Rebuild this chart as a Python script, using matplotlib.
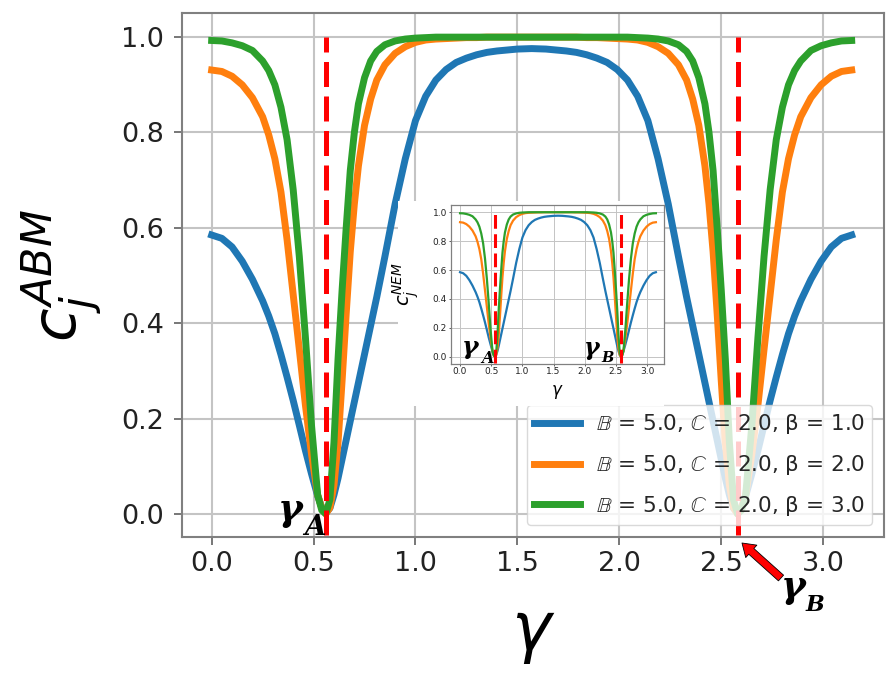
import matplotlib
matplotlib.use('Agg')
import matplotlib.pyplot as plt

# ---------------- data ----------------
gamma = [0.00, 0.05, 0.10, 0.15, 0.20, 0.25, 0.28, 0.31, 0.34, 0.37, 0.40, 0.43,
         0.46, 0.49, 0.52, 0.54, 0.56, 0.58, 0.60, 0.62, 0.64, 0.66, 0.68, 0.70,
         0.72, 0.75, 0.78, 0.81, 0.85, 0.90, 0.95, 1.00, 1.05, 1.10, 1.15, 1.20,
         1.25, 1.30, 1.35, 1.40, 1.45, 1.50, 1.57,
         1.64, 1.69, 1.74, 1.79, 1.84, 1.89, 1.94, 1.99, 2.04, 2.09, 2.14, 2.19,
         2.24, 2.29, 2.33, 2.36, 2.39, 2.42, 2.44, 2.46, 2.48, 2.50, 2.52, 2.54,
         2.56, 2.58, 2.60, 2.62, 2.65, 2.68, 2.71, 2.74, 2.77, 2.80, 2.83, 2.86,
         2.89, 2.94, 2.99, 3.04, 3.09, 3.14]

c_beta1 = [0.585, 0.578, 0.560, 0.530, 0.492, 0.447, 0.415, 0.378, 0.334, 0.287, 0.238, 0.186,
           0.133, 0.084, 0.038, 0.014, 0.002, 0.012, 0.040, 0.075, 0.115, 0.155, 0.195, 0.235,
           0.275, 0.335, 0.395, 0.455, 0.540, 0.650, 0.745, 0.825, 0.876, 0.910, 0.932, 0.947,
           0.956, 0.963, 0.968, 0.971, 0.973, 0.975, 0.976,
           0.975, 0.973, 0.971, 0.968, 0.963, 0.956, 0.947, 0.932, 0.910, 0.876, 0.825, 0.745,
           0.650, 0.540, 0.455, 0.395, 0.335, 0.275, 0.235, 0.195, 0.155, 0.115, 0.075, 0.040,
           0.012, 0.002, 0.014, 0.038, 0.084, 0.133, 0.186, 0.238, 0.287, 0.334, 0.378, 0.415,
           0.447, 0.492, 0.530, 0.560, 0.578, 0.585]

c_beta2 = [0.931, 0.928, 0.918, 0.900, 0.873, 0.833, 0.795, 0.745, 0.675, 0.575, 0.460, 0.345,
           0.228, 0.125, 0.040, 0.013, 0.000, 0.013, 0.060, 0.150, 0.280, 0.420, 0.550, 0.650,
           0.730, 0.815, 0.870, 0.910, 0.942, 0.966, 0.980, 0.989, 0.994, 0.996, 0.997, 0.998,
           0.999, 0.999, 1.000, 1.000, 1.000, 1.000, 1.000,
           1.000, 1.000, 1.000, 1.000, 0.999, 0.999, 0.998, 0.997, 0.996, 0.994, 0.989, 0.980,
           0.966, 0.942, 0.910, 0.870, 0.815, 0.730, 0.650, 0.550, 0.420, 0.280, 0.150, 0.060,
           0.013, 0.000, 0.013, 0.040, 0.125, 0.228, 0.345, 0.460, 0.575, 0.675, 0.745, 0.795,
           0.833, 0.873, 0.900, 0.918, 0.928, 0.931]

c_beta3 = [0.993, 0.992, 0.988, 0.982, 0.972, 0.950, 0.930, 0.900, 0.853, 0.785, 0.680, 0.540,
           0.370, 0.185, 0.040, 0.008, 0.000, 0.030, 0.150, 0.325, 0.470, 0.600, 0.720, 0.800,
           0.860, 0.915, 0.950, 0.970, 0.984, 0.992, 0.996, 0.998, 0.999, 1.000, 1.000, 1.000,
           1.000, 1.000, 1.000, 1.000, 1.000, 1.000, 1.000,
           1.000, 1.000, 1.000, 1.000, 1.000, 1.000, 1.000, 1.000, 1.000, 0.999, 0.998, 0.996,
           0.992, 0.984, 0.970, 0.950, 0.915, 0.860, 0.800, 0.720, 0.600, 0.470, 0.325, 0.150,
           0.030, 0.000, 0.008, 0.040, 0.185, 0.370, 0.540, 0.680, 0.785, 0.853, 0.900, 0.930,
           0.950, 0.972, 0.982, 0.988, 0.992, 0.993]

series = [c_beta1, c_beta2, c_beta3]
labels = [r'$\mathbb{B}$ = 5.0, $\mathbb{C}$ = 2.0, β = 1.0',
          r'$\mathbb{B}$ = 5.0, $\mathbb{C}$ = 2.0, β = 2.0',
          r'$\mathbb{B}$ = 5.0, $\mathbb{C}$ = 2.0, β = 3.0']
colors = ['#1f77b4', '#ff7f0e', '#2ca02c']
gamma_A = 0.56
gamma_B = 2.58
red_span = [-0.045, 1.0]
xticks = [0.0, 0.5, 1.0, 1.5, 2.0, 2.5, 3.0]
yticks = [0.0, 0.2, 0.4, 0.6, 0.8, 1.0]

# ---------------- figure ----------------
W, H = 896, 677
fig = plt.figure(figsize=(W / 100, H / 100), dpi=100)


def fbox(x0, y0, x1, y1):
    return [x0 / W, 1 - y1 / H, (x1 - x0) / W, (y1 - y0) / H]


def style_axes(a, tick_size, tick_len, xpad, ypad, grid_lw, spine_lw):
    a.set_xticks(xticks)
    a.set_yticks(yticks)
    a.set_xticklabels([f'{t:.1f}' for t in xticks])
    a.set_yticklabels([f'{t:.1f}' for t in yticks])
    a.tick_params(axis='both', labelsize=tick_size, length=tick_len, width=spine_lw * 0.8,
                  color='#606060', labelcolor='#222222')
    a.tick_params(axis='x', pad=xpad)
    a.tick_params(axis='y', pad=ypad)
    a.grid(True, color='#c4c4c4', lw=grid_lw)
    a.set_axisbelow(True)
    for s in a.spines.values():
        s.set_color('#808080')
        s.set_linewidth(spine_lw)


# main axes
ax = fig.add_axes(fbox(181.7, 13.3, 884.3, 537.3))
ax.set_zorder(0)
for vals, col, lab in zip(series, colors, labels):
    ax.plot(gamma, vals, color=col, lw=5, label=lab, solid_capstyle='projecting',
            solid_joinstyle='round')
for g in (gamma_A, gamma_B):
    ax.plot([g, g], red_span, color='red', lw=3.6, linestyle=(0, (5, 1.9)), zorder=4)
ax.set_xlim(-0.147, 3.30)
ax.set_ylim(-0.049, 1.05)
style_axes(ax, 19.5, 5.5, 4.5, 7, 1.5, 1.5)
ax.set_xlabel(r'$\gamma$', fontsize=48)
ax.xaxis.set_label_coords(0.5, -0.119)
ax.set_ylabel(r'$c_j^{ABM}$', fontsize=44)
ax.yaxis.set_label_coords(-0.111, 0.5)
leg = ax.legend(loc='lower right', fontsize=15.5, handlelength=2.1, handletextpad=0.75,
                labelspacing=0.78, borderpad=0.35, borderaxespad=0.55, framealpha=0.8,
                edgecolor='#d0d0d0', fancybox=True)
for t in leg.get_texts():
    t.set_color('#262626')

# white background of the pasted inset
bg = fig.add_axes(fbox(398, 201, 664, 406))
bg.set_zorder(1)
bg.set_facecolor('white')
bg.set_xticks([])
bg.set_yticks([])
for s in bg.spines.values():
    s.set_visible(False)

# inset axes
ins = fig.add_axes(fbox(451, 205, 664, 364))
ins.set_zorder(2)
for vals, col in zip(series, colors):
    ins.plot(gamma, vals, color=col, lw=1.6, solid_joinstyle='round')
for g in (gamma_A, gamma_B):
    ins.plot([g, g], red_span, color='red', lw=2.2, linestyle=(0, (4.5, 1.8)), zorder=4)
ins.set_xlim(-0.145, 3.27)
ins.set_ylim(-0.05, 1.05)
style_axes(ins, 6.5, 1.5, 1.0, 1.5, 0.7, 0.9)
ins.set_xlabel(r'$\gamma$', fontsize=12)
ins.xaxis.set_label_coords(0.5, -0.12)
ins.set_ylabel(r'$c_j^{NEM}$', fontsize=14)
ins.yaxis.set_label_coords(-0.14, 0.5)


# gamma annotations (bold serif)
def gtext(px, pybase, s, size):
    fig.text(px / W, 1 - pybase / H, s, fontsize=size, family='DejaVu Serif',
             weight='bold', style='italic', ha='left', va='baseline', color='black', zorder=6)


gtext(278, 520, 'γ', 27)
gtext(304, 535, 'A', 20)
gtext(781, 597, 'γ', 27)
gtext(806, 611, 'B', 16)
gtext(462, 354, 'γ', 18)
gtext(481, 363, 'A', 11.5)
gtext(584, 355, 'γ', 17)
gtext(601, 362, 'B', 10.5)

# red arrow pointing at gamma_B
ax.annotate('', xy=(742, H - 543), xycoords='figure pixels',
            xytext=(781, H - 578), textcoords='figure pixels',
            arrowprops=dict(arrowstyle='simple,head_width=1.2,head_length=0.9,tail_width=0.55',
                            fc='red', ec='black', lw=0.6, shrinkA=0, shrinkB=0,
                            mutation_scale=10),
            annotation_clip=False)

fig.savefig('out.png', dpi=100, facecolor='white')
